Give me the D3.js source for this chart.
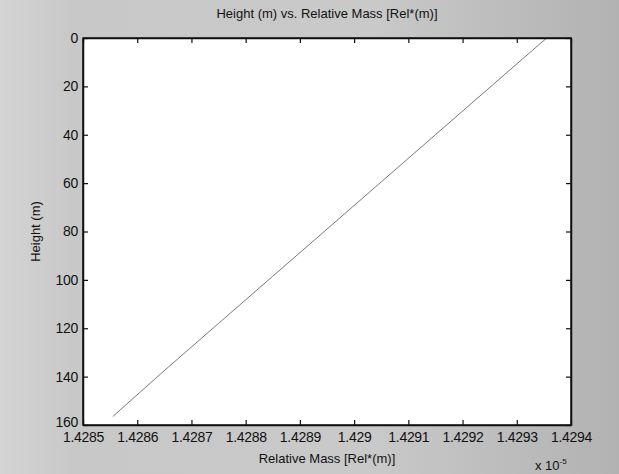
<!DOCTYPE html>
<html>
<head>
<meta charset="utf-8">
<script src="https://cdn.jsdelivr.net/npm/d3@7"></script>
<style>
  html, body { margin: 0; padding: 0; background: #c4c4c4; }
  svg { display: block; }
  text { font-family: "Liberation Sans", Arial, sans-serif; fill: #111; }
</style>
</head>
<body>
<svg id="chart" width="619" height="474"></svg>
<script>
// Relative mass (units of 1e-5) against height (m)
const relMass = [1.428555, 1.428650, 1.428750, 1.428850, 1.428950, 1.429050, 1.429150, 1.429255, 1.429355];
const heights = [156.5, 137.5, 118, 98.5, 79, 59.5, 40, 19.5, 0];

const xTicks = [1.4285, 1.4286, 1.4287, 1.4288, 1.4289, 1.429, 1.4291, 1.4292, 1.4293, 1.4294];
const xTickLabels = ["1.4285", "1.4286", "1.4287", "1.4288", "1.4289", "1.429", "1.4291", "1.4292", "1.4293", "1.4294"];
const yTicks = [0, 20, 40, 60, 80, 100, 120, 140, 160];

const titleText = "Height (m) vs. Relative Mass [Rel*(m)]";
const xLabel = "Relative Mass [Rel*(m)]";
const yLabel = "Height (m)";

const W = 619, H = 474;
const plot = { left: 83, right: 571, top: 38, bottom: 425 };

const svg = d3.select("#chart");

// figure background
const defs = svg.append("defs");
const grad = defs.append("linearGradient").attr("id", "figbg")
  .attr("x1", "0").attr("x2", "1").attr("y1", "0").attr("y2", "0");
grad.append("stop").attr("offset", "0").attr("stop-color", "#d4d4d4");
grad.append("stop").attr("offset", "0.12").attr("stop-color", "#c8c8c8");
grad.append("stop").attr("offset", "0.6").attr("stop-color", "#c9c9c9");
grad.append("stop").attr("offset", "1").attr("stop-color", "#b2b2b2");
svg.append("rect").attr("width", W).attr("height", H).attr("fill", "url(#figbg)");

const x = d3.scaleLinear().domain([1.4285, 1.4294]).range([plot.left, plot.right]);
const y = d3.scaleLinear().domain([0, 160]).range([plot.top, plot.bottom]);

// axes area
svg.append("rect")
  .attr("x", plot.left).attr("y", plot.top)
  .attr("width", plot.right - plot.left).attr("height", plot.bottom - plot.top)
  .attr("fill", "#fff");

// data line
const pts = relMass.map((m, i) => [m, heights[i]]);
svg.append("path")
  .datum(pts)
  .attr("fill", "none")
  .attr("stroke", "#7a7a7a")
  .attr("stroke-width", 1)
  .attr("d", d3.line().x(d => x(d[0])).y(d => y(d[1])));

// axes with inward ticks
const tickLen = 5;
const xBottom = d3.axisBottom(x).tickValues(xTicks)
  .tickFormat((d, i) => xTickLabels[i]).tickSizeInner(-tickLen).tickSizeOuter(0).tickPadding(7);
const xTop = d3.axisTop(x).tickValues(xTicks).tickFormat("").tickSizeInner(-tickLen).tickSizeOuter(0);
const yLeft = d3.axisLeft(y).tickValues(yTicks).tickSizeInner(-tickLen).tickSizeOuter(0).tickPadding(5);
const yRight = d3.axisRight(y).tickValues(yTicks).tickFormat("").tickSizeInner(-tickLen).tickSizeOuter(0);

function styleAxis(g) {
  g.selectAll("path.domain").attr("stroke", "#111").attr("stroke-width", 1.5);
  g.selectAll(".tick line").attr("stroke", "#111").attr("stroke-width", 1.2);
  g.selectAll(".tick text").style("font-family", "'Liberation Sans', Arial, sans-serif")
    .style("font-size", "14px").style("letter-spacing", "-0.3px").attr("fill", "#111");
}

svg.append("g").attr("transform", `translate(0,${plot.bottom})`).call(xBottom).call(styleAxis);
svg.append("g").attr("transform", `translate(0,${plot.top})`).call(xTop).call(styleAxis);
const yAxisG = svg.append("g").attr("transform", `translate(${plot.left},0)`).call(yLeft).call(styleAxis);
svg.append("g").attr("transform", `translate(${plot.right},0)`).call(yRight).call(styleAxis);

// the bottom y label sits just above the corner so it clears the first x label
yAxisG.selectAll(".tick text").filter(d => d === 160).attr("dy", "0.1em");

// box frame
svg.append("rect")
  .attr("x", plot.left).attr("y", plot.top)
  .attr("width", plot.right - plot.left).attr("height", plot.bottom - plot.top)
  .attr("fill", "none").attr("stroke", "#111").attr("stroke-width", 1.5);

const cx = (plot.left + plot.right) / 2;

svg.append("text").attr("x", cx).attr("y", 18)
  .attr("text-anchor", "middle").style("font-size", "13px").text(titleText);

svg.append("text").attr("x", cx).attr("y", 463)
  .attr("text-anchor", "middle").style("font-size", "13px").text(xLabel);

svg.append("text")
  .attr("transform", `translate(40,${(plot.top + plot.bottom) / 2}) rotate(-90)`)
  .attr("text-anchor", "middle").style("font-size", "13px").text(yLabel);

// exponent multiplier for the x axis
const expo = svg.append("text").attr("x", 535).attr("y", 470).style("font-size", "13px");
expo.append("tspan").text("x 10");
expo.append("tspan").attr("dy", -6).style("font-size", "8px").text("-5");
</script>
</body>
</html>
